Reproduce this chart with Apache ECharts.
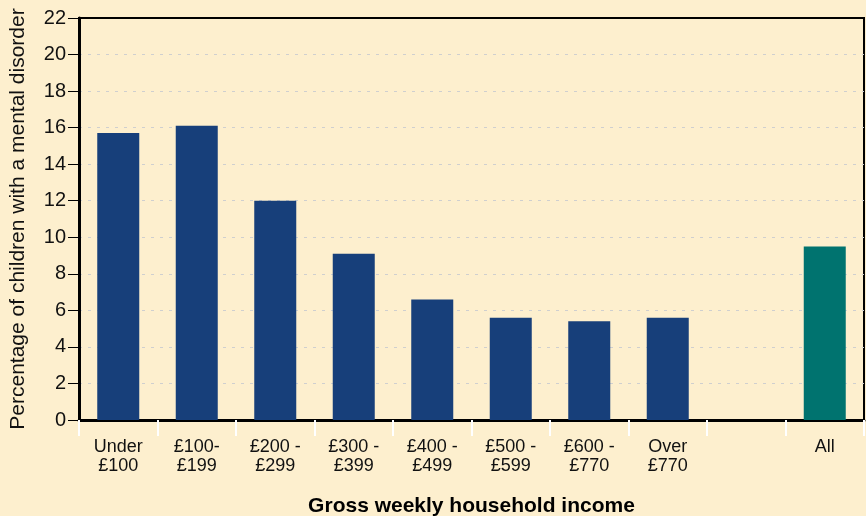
<!DOCTYPE html>
<html>
<head>
<meta charset="utf-8">
<style>
  html, body { margin: 0; padding: 0; background: #FDEFCE; }
  #chart { width: 866px; height: 516px; }
</style>
<script src="https://cdn.jsdelivr.net/npm/echarts@6/dist/echarts.min.js"></script>
</head>
<body>
<div id="chart"></div>
<script>
// income bands, with an empty slot before "All"
const categories = ['Under\n£100', '£100-\n£199', '£200 -\n£299', '£300 -\n£399', '£400 -\n£499',
  '£500 -\n£599', '£600 -\n£770', 'Over\n£770', '', 'All'];
const values = [15.7, 16.1, 12.0, 9.1, 6.6, 5.6, 5.4, 5.6, null, 9.5];
const yTicks = { min: 0, max: 22, interval: 2 };

const navy = '#173F7A';
const teal = '#00736F';

const chart = echarts.init(document.getElementById('chart'));

chart.setOption({
  backgroundColor: '#FDEFCE',
  textStyle: { fontFamily: 'Liberation Sans, Arial, sans-serif' },
  grid: {
    left: 79, right: 2, top: 18, bottom: 96,
    outerBoundsMode: 'none',
    containLabel: false,
    show: true, borderColor: '#000', borderWidth: 2
  },
  xAxis: {
    type: 'category',
    data: categories,
    name: 'Gross weekly household income',
    nameLocation: 'middle',
    nameGap: 76,
    nameTextStyle: { fontSize: 21, fontWeight: 'bold', color: '#000' },
    axisLine: { lineStyle: { color: '#000', width: 3 } },
    axisTick: { show: true, interval: 0, length: 16, lineStyle: { color: '#fff', width: 2 } },
    axisLabel: { interval: 0, fontSize: 18, color: '#111', margin: 18, lineHeight: 19 }
  },
  yAxis: {
    type: 'value',
    min: yTicks.min, max: yTicks.max, interval: yTicks.interval,
    name: 'Percentage of children with a mental disorder',
    nameLocation: 'middle',
    nameGap: 50,
    nameTextStyle: { fontSize: 21, color: '#111' },
    axisLine: { show: true, lineStyle: { color: '#000', width: 3 } },
    axisTick: { show: true, length: 11, lineStyle: { color: '#000', width: 1 } },
    axisLabel: { fontSize: 20, color: '#111', margin: 13 },
    splitLine: { showMinLine: false, showMaxLine: false, lineStyle: { color: '#cfcfcf', type: [3, 6], width: 1 } }
  },
  series: [{
    type: 'bar',
    barWidth: 42,
    data: values.map((v, i) => ({
      value: v,
      itemStyle: { color: categories[i] === 'All' ? teal : navy }
    }))
  }]
});
</script>
</body>
</html>
